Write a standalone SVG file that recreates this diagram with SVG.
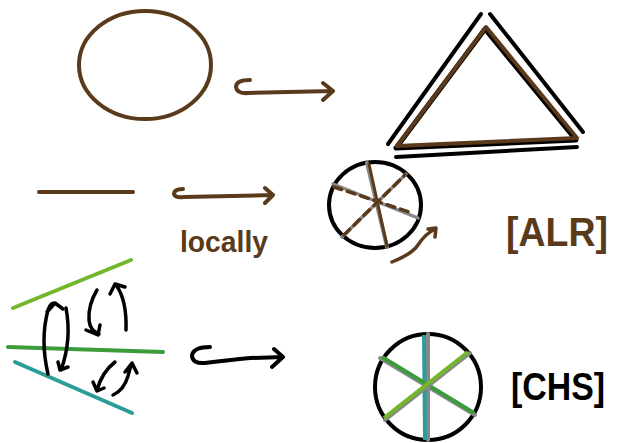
<svg xmlns="http://www.w3.org/2000/svg" width="618" height="443" viewBox="0 0 618 443">
<style>
.br{fill:none;stroke:#5a3a1a;stroke-linecap:round;stroke-linejoin:round}
.bk{fill:none;stroke:#000;stroke-linecap:round;stroke-linejoin:round}
.gr{fill:none;stroke:#888;stroke-linecap:round}
.lbl{font-family:"Liberation Sans",Arial,sans-serif;font-weight:bold}
</style>
<rect width="618" height="443" fill="#fff"/>
<g id="ellipse"><ellipse cx="145" cy="65" rx="66" ry="54" class="br" stroke-width="4"/></g>
<g id="triangle">
<polygon points="486,27 397,146 577,138" class="bk" stroke-width="5" transform="translate(-1,2)"/>
<polygon points="486,27 397,146 577,138" class="br" stroke-width="4"/>
<line x1="388" y1="144" x2="481" y2="14" class="bk" stroke-width="4"/>
<line x1="490" y1="14" x2="583" y2="132" class="bk" stroke-width="4"/>
<line x1="396" y1="157" x2="577" y2="147" class="bk" stroke-width="4"/>
</g>
<g id="segment"><line x1="39" y1="192" x2="133" y2="192" class="br" stroke-width="4"/></g>
<g id="locally"><text x="180" y="252" class="lbl" font-size="30" fill="#5a3a1a" textLength="88" lengthAdjust="spacingAndGlyphs">locally</text></g>
<g id="wheel1">
<ellipse cx="375" cy="205" rx="46" ry="43" class="bk" stroke-width="4"/>
<line x1="367" y1="163" x2="387" y2="247" class="gr" stroke-width="4"/>
<line x1="369" y1="164" x2="387" y2="246" class="br" stroke-width="3"/>
<line x1="333" y1="184" x2="418" y2="218" class="gr" stroke-width="3.5"/>
<line x1="334" y1="187" x2="412" y2="213" class="br" stroke-width="3.5" stroke-dasharray="8 6"/>
<line x1="342" y1="237" x2="406" y2="174" class="gr" stroke-width="3.5"/>
<line x1="344" y1="235" x2="405" y2="175" class="br" stroke-width="3.5" stroke-dasharray="8 6"/>
</g>
<g id="alr"><text x="506" y="246" class="lbl" font-size="40" fill="#5a3a1a" textLength="102" lengthAdjust="spacingAndGlyphs">[ALR]</text></g>
<g id="lines3">
<line x1="13" y1="308" x2="131" y2="260" stroke="#72b62c" stroke-width="4" stroke-linecap="round"/>
<line x1="8" y1="347" x2="163" y2="352" stroke="#3c9c3c" stroke-width="4" stroke-linecap="round"/>
<line x1="15" y1="362" x2="132" y2="413" stroke="#2a9d98" stroke-width="4" stroke-linecap="round"/>
</g>
<g id="wheel2">
<circle cx="428" cy="387" r="53" class="bk" stroke-width="4"/>
<line x1="428" y1="334" x2="428" y2="440" class="gr" stroke-width="4"/>
<line x1="424" y1="335" x2="425" y2="440" stroke="#2a9d98" stroke-width="4"/>
<line x1="380" y1="358" x2="475" y2="415" class="gr" stroke-width="4"/>
<line x1="382" y1="357" x2="474" y2="413" stroke="#3c9c3c" stroke-width="4"/>
<line x1="385" y1="420" x2="470" y2="353" class="gr" stroke-width="4"/>
<line x1="384" y1="418" x2="468" y2="352" stroke="#72b62c" stroke-width="4"/>
</g>
<g id="chs"><text x="511" y="400" class="lbl" font-size="38" fill="#000" textLength="94" lengthAdjust="spacingAndGlyphs">[CHS]</text></g>
<g id="connectors">
<path d="M250,80 Q236,80 236,87 Q237,94 248,93 L333,91 M323,83 L333,91 L323,100" class="br" stroke-width="4"/>
<path d="M183,189 Q174,189 174,194 Q175,198 184,197 L273,195 M265,188 L273,195 L265,203" class="br" stroke-width="4"/>
<path d="M392,262 Q412,254 418,245 Q425,234 435,229 M428,229 L436,228 L435,237" class="br" stroke-width="3.5"/>
<path d="M210,347 Q194,347 192,355 Q192,364 205,363 Q230,360 250,358 L283,357 M274,349 L283,357 L272,367" class="bk" stroke-width="4"/>
<path d="M48,374 Q40,340 48,310 Q51,301 56,304 M47,312 L55,303 L63,309" class="bk" stroke-width="3.5"/>
<path d="M66,308 Q72,340 61,370 M58,362 L60,370 L68,367" class="bk" stroke-width="3.5"/>
<path d="M97,290 Q88,305 89,320 Q90,331 99,334 M86,330 L98,335 L100,325" class="bk" stroke-width="3.5"/>
<path d="M126,330 Q127,300 116,285 M110,294 L115,284 L125,287" class="bk" stroke-width="3.5"/>
<path d="M115,362 Q102,372 97,390 M93,382 L97,391 L104,388" class="bk" stroke-width="3.5"/>
<path d="M113,395 Q124,390 128,376 Q130,368 132,364 M125,372 L132,363 L137,373" class="bk" stroke-width="3.5"/>
</g>
</svg>
